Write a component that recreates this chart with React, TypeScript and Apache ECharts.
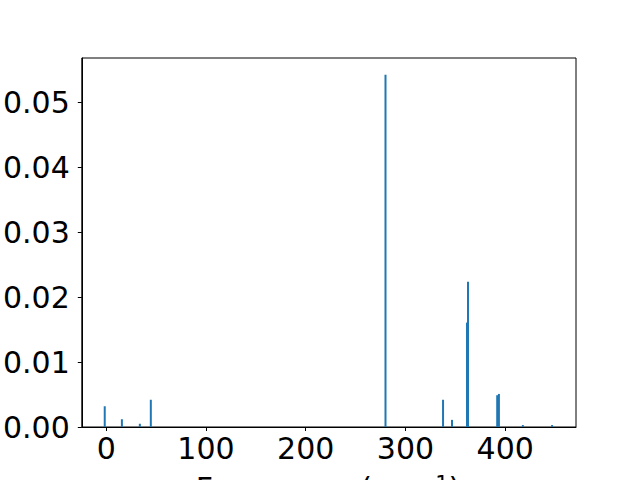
import React, { useEffect, useRef } from "react";
import * as echarts from "echarts";

const frequencies = [-1.5, 15.7, 33.7, 44.7, 280, 337.7, 346.7, 361.7, 362.7, 392, 393.7, 417.7, 447];
const intensities = [0.0032, 0.0012, 0.0005, 0.0042, 0.0543, 0.0042, 0.0011, 0.0161, 0.0224, 0.0049, 0.0051, 0.0003, 0.0003];
const xTicks = [0, 100, 200, 300, 400];
const yTicks = [0, 0.01, 0.02, 0.03, 0.04, 0.05];

export default function App() {
  const ref = useRef<HTMLDivElement>(null);
  useEffect(() => {
    if (!ref.current) return;
    const chart = echarts.init(ref.current, null, { renderer: "svg" });
    const font = "DejaVu Sans";
    chart.setOption({
      animation: false,
      grid: {
        left: 81,
        right: 64,
        top: 58,
        bottom: 53,
        show: true,
        borderColor: "#000",
        borderWidth: 1,
        backgroundColor: "transparent",
      },
      xAxis: {
        type: "value",
        min: -24.5,
        max: 471,
        splitLine: { show: false },
        axisLine: { show: true, onZero: false, lineStyle: { color: "#000", width: 1 } },
        axisTick: { show: true, length: 4, customValues: xTicks, lineStyle: { color: "#000" } },
        axisLabel: {
          customValues: xTicks,
          fontFamily: font,
          fontSize: 30,
          color: "#000",
          margin: 6,
        },
      },
      yAxis: {
        type: "value",
        min: 0,
        max: 0.0569,
        splitLine: { show: false },
        axisLine: { show: true, onZero: false, lineStyle: { color: "#000", width: 1 } },
        axisTick: { show: true, length: 4, customValues: yTicks, lineStyle: { color: "#000" } },
        axisLabel: {
          customValues: yTicks,
          fontFamily: font,
          fontSize: 30,
          color: "#000",
          margin: 12,
          formatter: (v: number) => v.toFixed(2),
        },
      },
      series: [
        {
          type: "bar",
          barWidth: 2,
          itemStyle: { color: "#1f77b4" },
          data: frequencies.map((f, i) => [f, intensities[i]]),
        },
      ],
      graphic: [
        {
          type: "text",
          x: 328,
          y: 473,
          style: {
            text: "{a|Frequency (cm}{s|−1}{a|)}",
            fill: "#000",
            align: "center",
            verticalAlign: "top",
            rich: {
              a: { fontFamily: font, fontSize: 30, fill: "#000", verticalAlign: "bottom" },
              s: { fontFamily: font, fontSize: 21, fill: "#000", verticalAlign: "top", padding: [0, 0, 8, 0] },
            },
          },
        },
      ],
    });
    return () => chart.dispose();
  }, []);
  return <div ref={ref} style={{ width: 640, height: 480, position: "absolute", left: 0, top: 0 }} />;
}
